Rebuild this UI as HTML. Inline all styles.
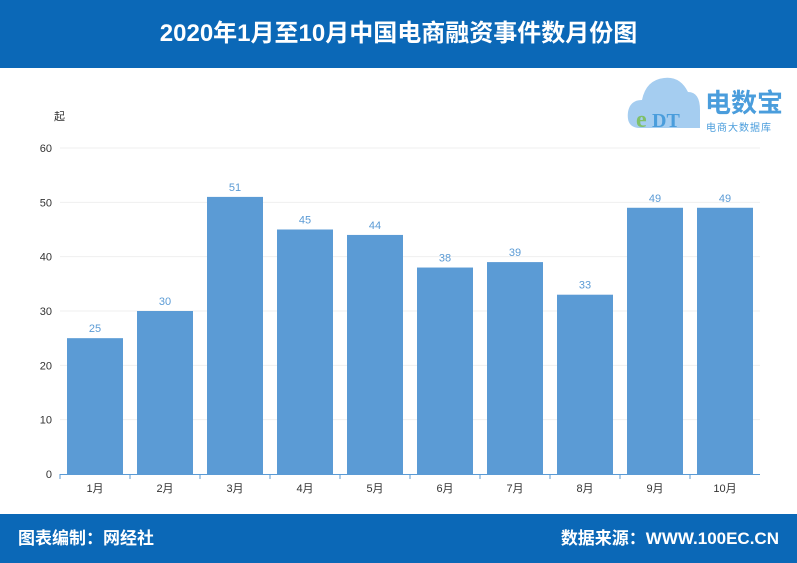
<!DOCTYPE html>
<html><head><meta charset="utf-8"><style>
body{margin:0;width:797px;height:563px;position:relative;background:#fff;font-family:"Liberation Sans","Noto Sans CJK SC",sans-serif;overflow:hidden}
.hdr{position:absolute;left:0;top:0;width:797px;height:68px;background:#0b68b7;color:#fff;font-size:24px;font-weight:bold;text-align:center;line-height:68px}
.ftr{position:absolute;left:0;top:514px;width:797px;height:49px;background:#0b68b7;color:#fff;font-size:17px;font-weight:bold;line-height:49px}
</style></head><body>
<div class="hdr">2020年1月至10月中国电商融资事件数月份图</div>
<svg id="c" width="797" height="563" style="position:absolute;left:0;top:0">
<g>
<path d="M640 128 Q626 128 628 112 Q630 100 642 100 Q646 80 664 78 Q680 76 688 92 Q700 92 700 110 L700 128 Z" fill="#a5cdf0"/>
<text x="636" y="127" font-size="24" font-weight="bold" fill="#7fc06a" font-family="Liberation Serif,serif">e</text>
<text x="652" y="127" font-size="20" font-weight="bold" fill="#4a9ddc" font-family="Liberation Serif,serif">DT</text>
<text x="705" y="112" font-size="26" font-weight="bold" fill="#4a9ddc">电数宝</text>
<text x="706" y="131" font-size="10" fill="#4a9ddc" letter-spacing="1">电商大数据库</text>
</g>
<text x="54" y="120" font-size="11" fill="#333">起</text>
</svg>
<div class="ftr"><span style="position:absolute;left:18px">图表编制：网经社</span><span style="position:absolute;right:18px">数据来源：WWW.100EC.CN</span></div>
<script>
const categories=["1月","2月","3月","4月","5月","6月","7月","8月","9月","10月"];
const values=[25,30,51,45,44,38,39,33,49,49];
const ticks=[0,10,20,30,40,50,60];
const svg=document.getElementById('c');const NS="http://www.w3.org/2000/svg";
const x0=60,x1=760,y0=474,y1=148,maxV=60;
const band=(x1-x0)/categories.length;
const y=v=>y0-(v/maxV)*(y0-y1);
const xb=i=>x0+i*band;
function mk(t,a,txt){const e=document.createElementNS(NS,t);for(const k in a)e.setAttribute(k,a[k]);if(txt!==undefined)e.textContent=txt;svg.appendChild(e);return e;}
ticks.forEach(t=>{
 if(t>0){const l=mk('line',{x1:x0,x2:x1,y1:y(t),y2:y(t),stroke:'#efefef'});
 
 }
 const tx=mk('text',{x:52,y:y(t)+4,'font-size':11,fill:'#333','text-anchor':'end'},t);
 
 
});
const ax=mk('line',{x1:x0,x2:x1,y1:y0+0.5,y2:y0+0.5,stroke:'#5b9bd5'});


values.forEach((v,i)=>{
 const bw=56,bx=xb(i)+(band-bw)/2;
 const r=mk('rect',{x:bx,y:y(v),width:bw,height:y0-y(v),fill:'#5b9bd5'});
 
 
 const lb=mk('text',{x:bx+bw/2,y:y(v)-6,'font-size':11,fill:'#5b9bd5','text-anchor':'middle'},v);
 
 
 const tl=mk('line',{x1:xb(i),x2:xb(i),y1:y0,y2:y0+5,stroke:'#5b9bd5'});
 
 
 const ct=mk('text',{x:xb(i)+band/2,y:y0+18,'font-size':11,fill:'#333','text-anchor':'middle'},categories[i]);
 
 
});
</script>
</body></html>
